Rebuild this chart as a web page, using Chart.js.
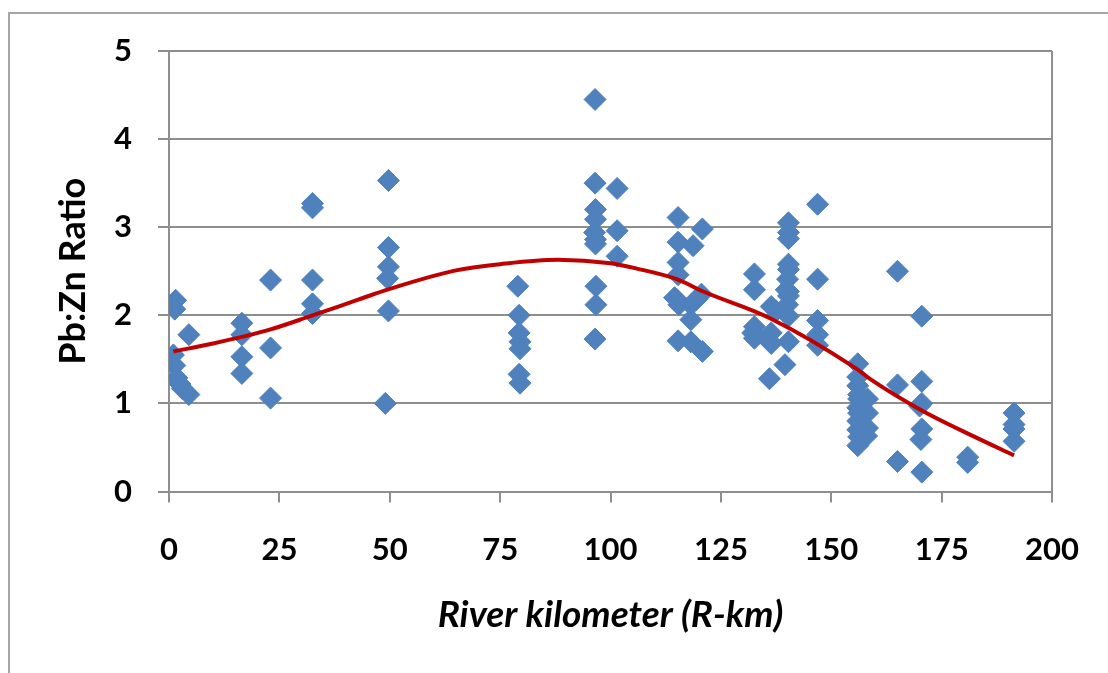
<!DOCTYPE html>
<html>
<head>
<meta charset="utf-8">
<title>Pb:Zn ratio along the river</title>
<script src="https://cdn.jsdelivr.net/npm/chart.js@4.4.1/dist/chart.umd.min.js"></script>
<style>
  html, body { margin: 0; padding: 0; background: #fff; overflow: hidden; }
  #wrap { position: relative; width: 1108px; height: 673px; }
  #frame { position: absolute; left: 8px; top: 12px; width: 1200px; height: 800px; border: 2px solid #a6a6a6; }
  #chart { position: absolute; left: 0; top: 0; }
</style>
</head>
<body>
<div id="wrap">
  <div id="frame"></div>
  <canvas id="chart" width="1108" height="673"></canvas>
</div>
<script>
// sample positions (R-km) and measured Pb:Zn ratios
const riverKm = [
  1.5, 1.3, 1.0, 1.3, 1.8, 2.5, 3.0, 4.5, 4.5,
  16.5, 16.5, 16.5, 16.5,
  23, 23, 23,
  32.5, 32.5, 32.5, 32.5, 32.5,
  49.7, 49.7, 49.7, 49.5, 49.7, 49.0,
  79, 79.3, 79.3, 79.5, 79.5, 79.3, 79.5,
  96.5, 96.5, 96.6, 96.6, 96.4, 96.6, 96.6, 96.7, 96.7, 96.5,
  101.5, 101.5, 101.5,
  115.3, 115.3, 115.3, 115.3, 115.0, 115.5, 115.3, 114.5,
  120.8, 118.7, 120.6, 118.2, 118.2, 118.2, 120.8, 119.5,
  132.6, 132.6, 132.6, 132.2, 132.6,
  136.4, 137.5, 136.4, 136.4, 136.0, 135.8,
  140.3, 140.3, 140.3, 140.3, 140.3, 140.1, 140.3, 140.3, 140.1, 140.3, 140.3, 139.5, 139.8,
  146.9, 146.9, 146.9, 146.9, 146.9,
  156.0, 156.0, 156.0, 156.2, 156.2, 156.0, 156.2, 156.0, 156.0, 156.2, 156.0,
  158.2, 158.2, 158.2, 158.0,
  165.0, 165.0, 165.0,
  170.5, 170.5, 170.5, 170.0, 170.5, 170.3, 170.5,
  180.9, 180.9,
  191.4, 191.4, 191.4, 191.4
];
const pbZnRatio = [
  2.17, 2.07, 1.55, 1.43, 1.29, 1.22, 1.17, 1.78, 1.10,
  1.91, 1.78, 1.53, 1.34,
  2.40, 1.63, 1.06,
  3.27, 3.22, 2.40, 2.13, 2.02,
  3.53, 2.77, 2.55, 2.42, 2.05, 1.00,
  2.33, 2.00, 1.80, 1.70, 1.62, 1.33, 1.23,
  4.45, 3.50, 3.20, 3.09, 2.94, 2.86, 2.81, 2.33, 2.12, 1.73,
  3.44, 2.96, 2.67,
  3.11, 2.83, 2.60, 2.46, 2.18, 2.12, 1.71, 2.20,
  2.98, 2.79, 2.24, 2.12, 1.95, 1.70, 1.59, 2.18,
  2.47, 2.29, 1.87, 1.80, 1.74,
  2.10, 2.05, 1.80, 1.68, 1.28, 1.72,
  3.05, 2.94, 2.87, 2.58, 2.52, 2.41, 2.27, 2.22, 2.12, 1.99, 1.70, 1.44, 2.29,
  3.26, 2.41, 1.94, 1.78, 1.66,
  1.45, 1.30, 1.20, 1.10, 1.05, 0.95, 0.89, 0.80, 0.70, 0.62, 0.52,
  1.05, 0.89, 0.72, 0.63,
  2.50, 1.21, 0.34,
  1.99, 1.25, 1.00, 0.97, 0.71, 0.59, 0.22,
  0.39, 0.33,
  0.89, 0.76, 0.71, 0.57
];

// polynomial trend line
const trendKm = [1, 10, 23, 32, 43, 50, 65, 75, 88, 100, 106, 115, 121, 136, 155.5, 159, 170.5, 182.5, 191.4];
const trendRatio = [1.59, 1.68, 1.84, 1.99, 2.18, 2.30, 2.51, 2.58, 2.63, 2.59, 2.53, 2.41, 2.27, 1.97, 1.40, 1.27, 0.92, 0.62, 0.41];

const xTicks = [0, 25, 50, 75, 100, 125, 150, 175, 200];
const yTicks = [0, 1, 2, 3, 4, 5];

const gridGray = '#8e8e8e';
const tickFont = { family: 'Lato', size: 31, weight: 'bold' };

const samples = riverKm.map((km, i) => ({ x: km, y: pbZnRatio[i] }));
const trend = trendKm.map((km, i) => ({ x: km, y: trendRatio[i] }));

// right edge of the plot box
const plotBorder = {
  id: 'plotBorder',
  afterDraw(chart) {
    const { ctx, chartArea } = chart;
    ctx.save();
    ctx.strokeStyle = gridGray;
    ctx.lineWidth = 2;
    ctx.beginPath();
    ctx.moveTo(chartArea.right, chartArea.top);
    ctx.lineTo(chartArea.right, chartArea.bottom);
    ctx.stroke();
    ctx.restore();
  }
};

const ctx = document.getElementById('chart').getContext('2d');
new Chart(ctx, {
  type: 'scatter',
  data: {
    datasets: [
      {
        type: 'line',
        label: 'Poly. trend',
        data: trend,
        borderColor: '#C00000',
        borderWidth: 4,
        pointRadius: 0,
        fill: false,
        cubicInterpolationMode: 'monotone'
      },
      {
        label: 'Pb:Zn',
        data: samples,
        pointStyle: 'rectRot',
        pointRadius: 11,
        backgroundColor: '#4F81BD',
        borderColor: '#4F81BD',
        borderWidth: 1
      }
    ]
  },
  options: {
    responsive: false,
    animation: false,
    layout: { padding: { left: 0, top: 51, right: 50, bottom: 0 } },
    plugins: { legend: { display: false }, tooltip: { enabled: false } },
    scales: {
      x: {
        type: 'linear',
        min: 0,
        max: 200,
        afterBuildTicks: axis => { axis.ticks = xTicks.map(v => ({ value: v })); },
        afterFit: axis => { axis.height = 181.5; },
        grid: { drawOnChartArea: false, drawTicks: true, tickLength: 11, color: gridGray, lineWidth: 2 },
        border: { display: true, color: gridGray, width: 2 },
        ticks: { color: '#000', font: tickFont, padding: 29, maxRotation: 0 },
        title: {
          display: true,
          text: 'River kilometer (R-km)',
          color: '#000',
          font: { family: 'Lato', size: 37, weight: 'bold', style: 'italic' },
          padding: { top: 0, bottom: 36 }
        }
      },
      y: {
        type: 'linear',
        min: 0,
        max: 5,
        afterBuildTicks: axis => { axis.ticks = yTicks.map(v => ({ value: v })); },
        afterFit: axis => { axis.width = 169; },
        grid: { drawOnChartArea: true, drawTicks: true, tickLength: 11, color: gridGray, lineWidth: 2 },
        border: { display: true, color: gridGray, width: 2 },
        ticks: { color: '#000', font: tickFont, padding: 26 },
        title: {
          display: true,
          text: 'Pb:Zn Ratio',
          color: '#000',
          font: { family: 'Lato', size: 36, weight: 'bold' },
          padding: { top: 52, bottom: 0 }
        }
      }
    }
  },
  plugins: [plotBorder]
});
</script>
</body>
</html>
